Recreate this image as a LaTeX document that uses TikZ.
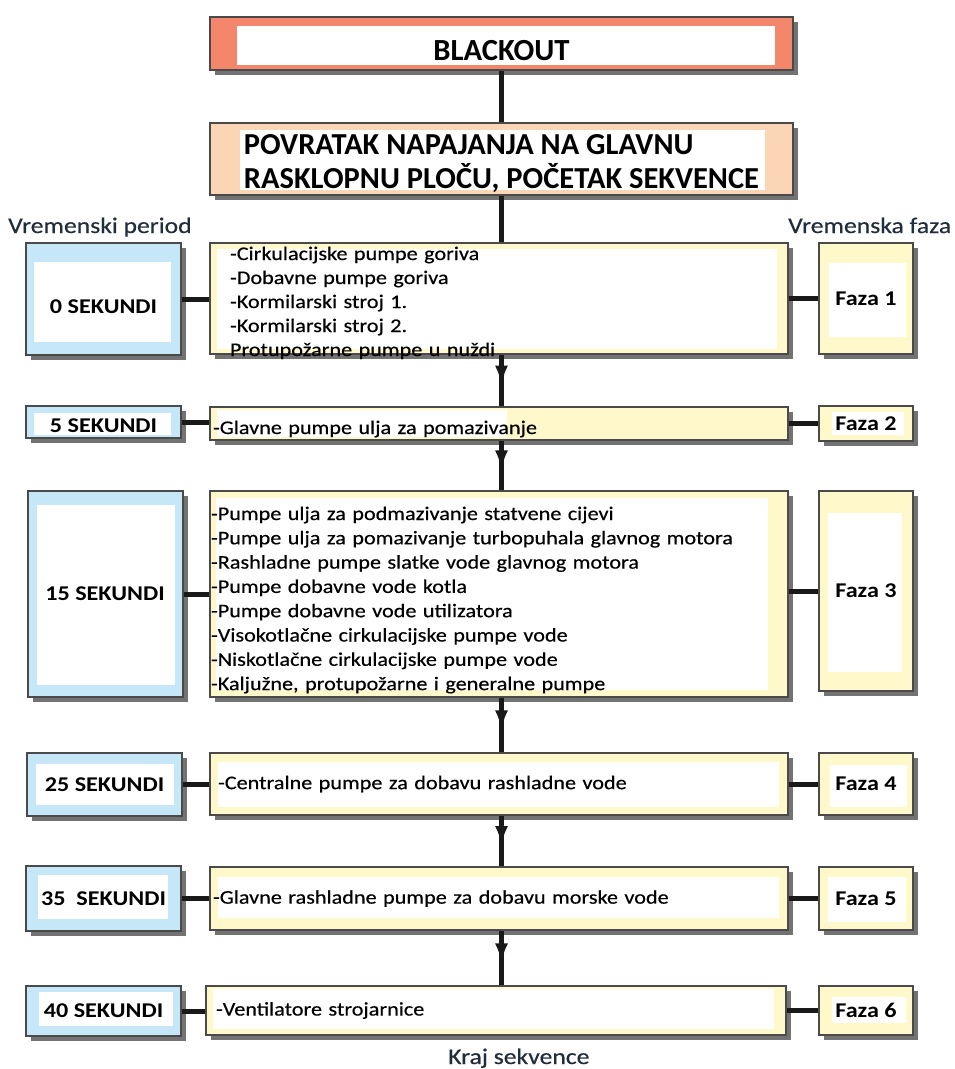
\documentclass[tikz,border=0pt]{standalone}
\usepackage{fontspec}
\setmainfont{Carlito}[FakeStretch=1.15, UprightFeatures={FakeBold=0.4}]
\newfontfamily\titlefont{Carlito}
\usetikzlibrary{shadows, arrows.meta, decorations.markings}

\definecolor{salmon}{HTML}{F4866C}
\definecolor{peach}{HTML}{FCD5B5}
\definecolor{paleblue}{HTML}{C6E7F8}
\definecolor{cream}{HTML}{FFF8CA}
\definecolor{edgegray}{HTML}{4A4A4A}
\definecolor{labelnavy}{HTML}{1F2D3D}

\tikzset{
    box/.style={draw=edgegray, line width=2pt, inner sep=0pt,
        drop shadow={shadow xshift=5pt, shadow yshift=-5pt, fill=black!55, opacity=1}},
    inwhite/.style n args={4}{path picture={
        \fill[white] ([shift={(#1,-#2)}]path picture bounding box.north west)
            rectangle ([shift={(-#3,#4)}]path picture bounding box.south east);}},
    period/.style={box, fill=paleblue, minimum width=155pt, font=\bfseries\fontsize{21}{24}\selectfont},
    phase/.style={box, fill=cream, minimum width=94pt, font=\bfseries\fontsize{21}{24}\selectfont},
    task/.style={box, fill=cream, minimum width=578pt, align=left, font=\fontsize{19.3}{24}\selectfont},
    link/.style={draw=black!90, line width=5pt},
    flow/.style={link, postaction={decorate}, decoration={markings,
        mark=at position 0.6 with {\arrow{Latex[length=20pt, width=13pt]}}}},
    caption/.style={text=labelnavy, inner sep=0pt, font=\fontsize{22.3}{24}\selectfont}
}

\begin{document}
\begin{tikzpicture}[x=1pt, y=-1pt]
        \useasboundingbox (0,0) rectangle (955,1069);

        % start of the sequence
        \node[box, fill=salmon, inwhite={27pt}{9pt}{18pt}{5pt}, minimum width=583pt, minimum height=53pt,
            text height=33pt, text depth=0pt,
            font=\titlefont\bfseries\fontsize{30.7}{32}\selectfont] (blackout) at (501.5,43.5) {BLACKOUT};
        \node[box, fill=peach, inwhite={30pt}{7pt}{28pt}{5pt}, minimum width=583pt, minimum height=72pt,
            text height=58pt, text depth=0pt, align=left,
            font=\titlefont\bfseries\fontsize{30.5}{34}\selectfont] (restart) at (501.5,159)
            {POVRATAK NAPAJANJA NA GLAVNU\\RASKLOPNU PLOČU, POČETAK SEKVENCE};

        % column titles
        \node[caption, anchor=base west] (periodlabel) at (8,233) {Vremenski period};
        \node[caption, anchor=base west] (phaselabel) at (788,233) {Vremenska faza};

        % time periods (left)
        \node[period, minimum height=112pt, text height=28pt, text depth=0pt,
            inwhite={8pt}{19pt}{10pt}{13pt}] (t0) at (103.5,299) {0 SEKUNDI};
        \node[period, minimum height=32pt, text height=20pt, text depth=0pt,
            inwhite={8pt}{7pt}{10pt}{3pt}] (t5) at (103.5,422) {5 SEKUNDI};
        \node[period, minimum height=206pt, inwhite={9pt}{14pt}{8pt}{12pt}] (t15) at (105,594) {15 SEKUNDI};
        \node[period, minimum height=63pt, inwhite={9pt}{11pt}{8pt}{11pt}] (t25) at (104.5,784.5) {25 SEKUNDI};
        \node[period, minimum height=65pt, inwhite={12pt}{9pt}{13pt}{12pt}] (t35) at (103.5,898.5) {35~~SEKUNDI};
        \node[period, minimum height=50pt, inwhite={13pt}{6pt}{8pt}{10pt}] (t40) at (103.5,1011) {40 SEKUNDI};

        % consumers started (middle)
        \node[task, minimum height=111pt, text width=538pt, text height=17pt, text depth=94pt,
            inwhite={7pt}{6pt}{11pt}{5pt}] (pumps0) at (499,298.5)
            {-Cirkulacijske pumpe goriva\\-Dobavne pumpe goriva\\-Kormilarski stroj 1.\\-Kormilarski stroj 2.\\Protupožarne pumpe u nuždi};
        \node[task, minimum height=33pt, text width=572pt, text height=21pt, text depth=0pt,
            inwhite={7pt}{3pt}{281pt}{3pt}] (pumps5) at (499,423.5)
            {-Glavne pumpe ulja za pomazivanje};
        \node[task, minimum height=206pt, text width=576pt, text height=20pt, text depth=168pt,
            font=\fontsize{19.3}{24.3}\selectfont, inwhite={6pt}{7pt}{20pt}{7pt}] (pumps15) at (499,594)
            {-Pumpe ulja za podmazivanje statvene cijevi\\
             -Pumpe ulja za pomazivanje turbopuhala glavnog motora\\
             -Rashladne pumpe slatke vode glavnog motora\\
             -Pumpe dobavne vode kotla\\
             -Pumpe dobavne vode utilizatora\\
             -Visokotlačne cirkulacijske pumpe vode\\
             -Niskotlačne cirkulacijske pumpe vode\\
             -Kaljužne, protupožarne i generalne pumpe};
        \node[task, minimum height=62pt, text width=562pt, inwhite={8pt}{9pt}{9pt}{8pt}] (pumps25) at (499,784)
            {-Centralne pumpe za dobavu rashladne vode};
        \node[task, minimum height=63pt, text width=572pt, inwhite={8pt}{10pt}{9pt}{12pt}] (pumps35) at (499,898.5)
            {-Glavne rashladne pumpe za dobavu morske vode};
        \node[task, minimum width=580pt, minimum height=49pt, text width=560pt, inwhite={7pt}{3pt}{12pt}{6pt}] (fans40) at (496,1010.5)
            {-Ventilatore strojarnice};

        % phases (right)
        \node[phase, minimum height=111pt, inwhite={10pt}{20pt}{7pt}{17pt}] (f1) at (866,298.5) {Faza 1};
        \node[phase, minimum height=35pt, inwhite={13pt}{6pt}{9pt}{6pt}] (f2) at (866,423.5) {Faza 2};
        \node[phase, minimum height=200pt, inwhite={9pt}{22pt}{11pt}{19pt}] (f3) at (866,591) {Faza 3};
        \node[phase, minimum height=62pt, inwhite={11pt}{12pt}{6pt}{8pt}] (f4) at (866,784) {Faza 4};
        \node[phase, minimum height=63pt, inwhite={9pt}{10pt}{7pt}{8pt}] (f5) at (866,898.5) {Faza 5};
        \node[phase, minimum height=49pt, inwhite={13pt}{11pt}{7pt}{12pt}] (f6) at (866,1010.5) {Faza 6};

        \node[caption, anchor=base west] (endlabel) at (448,1064) {Kraj sekvence};

        % main line
        \draw[link] (blackout.south) -- (restart.north);
        \draw[link] (restart.south) -- (restart.south |- pumps0.north);
        \foreach \a/\b in {pumps0/pumps5, pumps5/pumps15, pumps15/pumps25, pumps25/pumps35, pumps35/fans40}
            \draw[flow] (\a.south -| blackout.south) -- (\b.north -| blackout.south);

        % side links
        \foreach \p/\m/\f in {t0/pumps0/f1, t5/pumps5/f2, t15/pumps15/f3, t25/pumps25/f4, t35/pumps35/f5, t40/fans40/f6}
        {
            \draw[link] (\p.east) -- (\p.east -| \m.west);
            \draw[link] (\m.east |- \f.west) -- (\f.west);
        }
\end{tikzpicture}
\end{document}
